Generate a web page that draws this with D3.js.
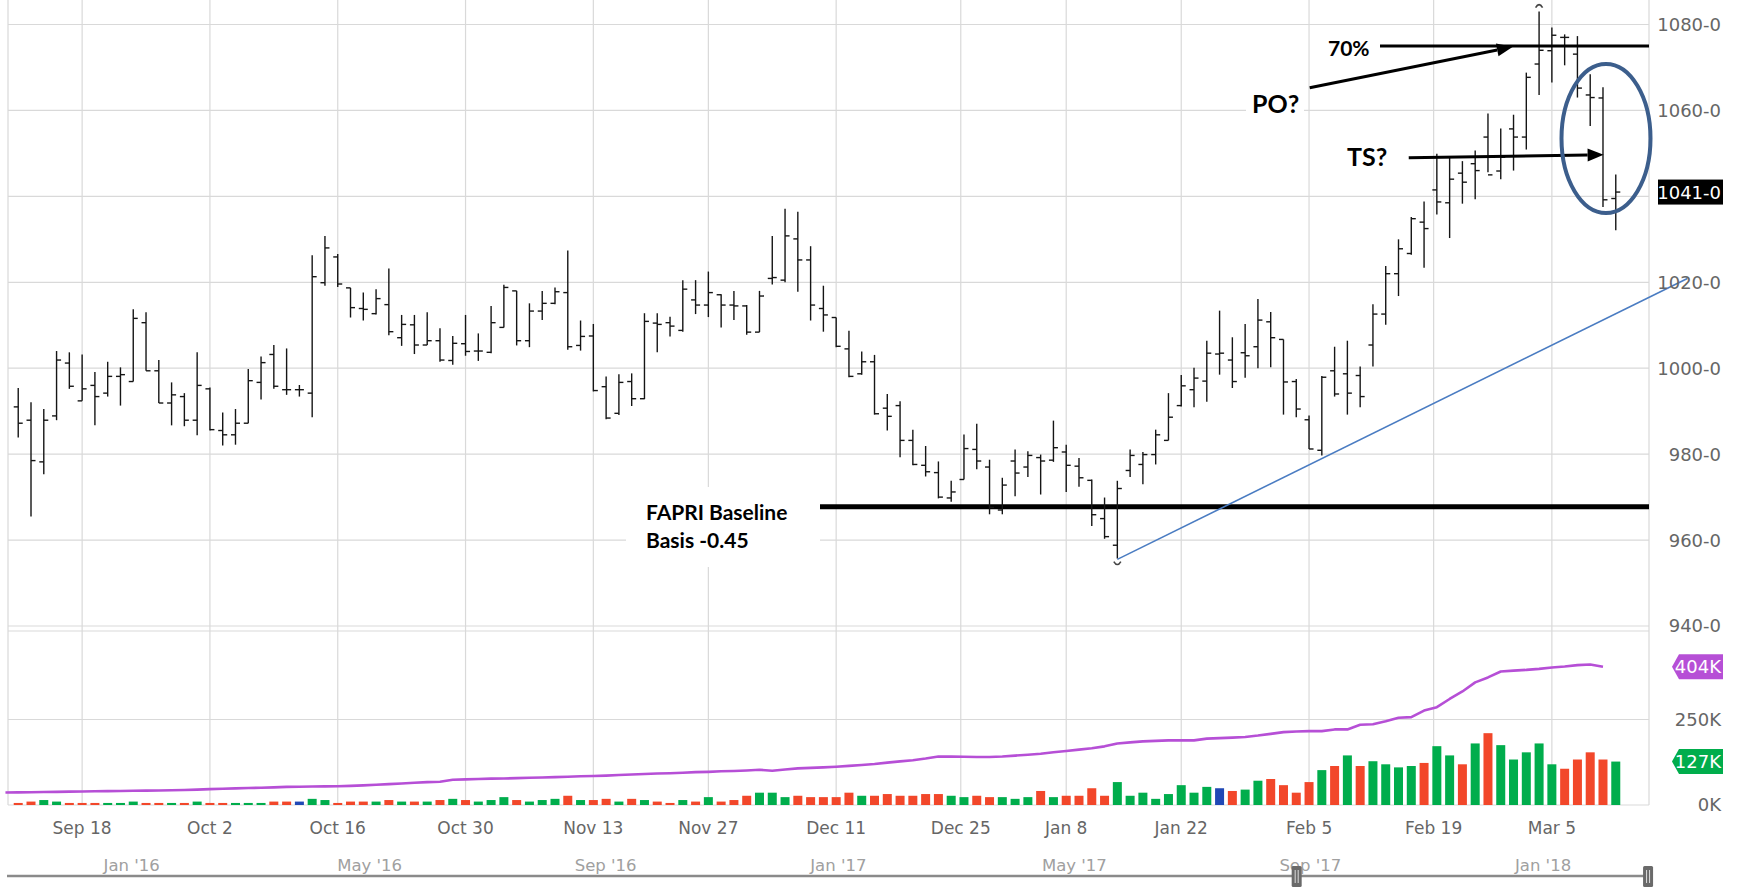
<!DOCTYPE html>
<html><head><meta charset="utf-8">
<script src="https://cdn.jsdelivr.net/npm/d3@7"></script>
<style>html,body{margin:0;padding:0;background:#fff;} svg{display:block;}</style>
</head><body>
<svg id="chart" width="1740" height="889"></svg>
<script>
// ---------------- DATA ----------------
const dates = [
"2017-09-11","2017-09-12","2017-09-13","2017-09-14","2017-09-15","2017-09-18","2017-09-19","2017-09-20","2017-09-21","2017-09-22",
"2017-09-25","2017-09-26","2017-09-27","2017-09-28","2017-09-29","2017-10-02","2017-10-03","2017-10-04","2017-10-05","2017-10-06",
"2017-10-09","2017-10-10","2017-10-11","2017-10-12","2017-10-13","2017-10-16","2017-10-17","2017-10-18","2017-10-19","2017-10-20",
"2017-10-23","2017-10-24","2017-10-25","2017-10-26","2017-10-27","2017-10-30","2017-10-31","2017-11-01","2017-11-02","2017-11-03",
"2017-11-06","2017-11-07","2017-11-08","2017-11-09","2017-11-10","2017-11-13","2017-11-14","2017-11-15","2017-11-16","2017-11-17",
"2017-11-20","2017-11-21","2017-11-22","2017-11-24","2017-11-27","2017-11-28","2017-11-29","2017-11-30","2017-12-01","2017-12-04",
"2017-12-05","2017-12-06","2017-12-07","2017-12-08","2017-12-11","2017-12-12","2017-12-13","2017-12-14","2017-12-15","2017-12-18",
"2017-12-19","2017-12-20","2017-12-21","2017-12-22","2017-12-26","2017-12-27","2017-12-28","2017-12-29","2018-01-02","2018-01-03",
"2018-01-04","2018-01-05","2018-01-08","2018-01-09","2018-01-10","2018-01-11","2018-01-12","2018-01-16","2018-01-17","2018-01-18",
"2018-01-19","2018-01-22","2018-01-23","2018-01-24","2018-01-25","2018-01-26","2018-01-29","2018-01-30","2018-01-31","2018-02-01",
"2018-02-02","2018-02-05","2018-02-06","2018-02-07","2018-02-08","2018-02-09","2018-02-12","2018-02-13","2018-02-14","2018-02-15",
"2018-02-16","2018-02-20","2018-02-21","2018-02-22","2018-02-23","2018-02-26","2018-02-27","2018-02-28","2018-03-01","2018-03-02",
"2018-03-05","2018-03-06","2018-03-07","2018-03-08","2018-03-09","2018-03-12"];

const open = [991.0,987.9,978.2,988.9,1001.2,992.4,996.0,994.2,998.1,996.9,
1010.6,999.4,991.9,993.4,987.9,995.2,985.5,984.5,987.2,996.7,
1003.2,995.0,995.0,994.2,1019.9,1025.9,1018.7,1013.9,1012.7,1014.8,
1007.1,1010.1,1005.4,1006.4,1001.8,1005.7,1004.0,1003.7,1009.5,1018.0,
1006.4,1013.3,1015.1,1017.6,1005.3,1007.5,995.7,989.5,996.9,992.9,
1010.5,1010.6,1008.8,1015.9,1014.7,1017.1,1014.7,1014.5,1008.4,1020.9,
1020.5,1030.1,1025.2,1013.9,1011.8,1004.5,998.7,1001.5,990.7,991.3,
983.2,977.4,975.7,969.8,974.1,981.1,977.0,967.0,978.4,977.0,
979.2,978.6,980.5,977.2,973.9,965.0,958.8,976.2,977.6,979.9,
983.2,991.3,995.0,997.0,1003.3,1001.9,1003.6,1005.0,1010.8,1006.7,
996.9,988.0,980.9,999.4,998.7,998.3,1005.4,1012.6,1022.0,1026.7,
1034.0,1041.5,1038.5,1045.4,1047.6,1053.8,1045.9,1055.7,1053.8,1070.8,
1073.9,1077.0,1073.1,1063.6,1062.9,1039.5];

const high = [995.4,992.1,990.5,1004.0,1003.7,1003.2,999.1,1001.5,1000.2,1013.7,
1013.0,1001.9,996.7,994.2,1003.7,995.5,989.7,990.5,999.8,1002.7,
1005.4,1004.6,996.1,1026.3,1030.8,1026.6,1018.7,1017.6,1018.4,1023.2,
1012.4,1012.4,1013.0,1009.3,1007.5,1012.4,1008.1,1014.5,1019.4,1018.0,
1015.1,1018.0,1018.8,1027.4,1011.1,1010.3,998.1,998.6,998.8,1012.8,
1012.8,1012.0,1020.5,1020.5,1022.5,1017.2,1018.0,1014.7,1018.0,1030.8,
1037.1,1036.4,1028.4,1019.2,1011.8,1008.7,1003.9,1003.1,994.0,992.3,
985.7,981.9,978.3,973.8,984.6,987.1,978.7,974.5,981.1,980.7,
979.9,987.8,982.2,979.1,974.1,969.9,973.8,981.1,980.5,985.7,
994.2,998.4,1000.1,1006.4,1013.4,1007.2,1010.3,1016.1,1013.1,1006.7,
997.5,989.0,998.2,1005.0,1006.4,1000.4,1014.9,1023.8,1030.0,1035.2,
1038.8,1049.9,1049.1,1048.2,1050.7,1059.3,1055.8,1059.0,1068.8,1083.0,
1079.3,1077.7,1077.3,1068.4,1065.4,1045.1];

const low = [983.9,965.5,975.3,987.9,995.2,992.4,986.7,993.4,991.3,996.9,
999.4,991.9,986.7,986.5,984.4,985.5,982.0,982.2,987.2,992.7,
995.2,993.8,993.4,988.6,1019.2,1018.9,1011.8,1011.1,1012.5,1007.7,
1005.2,1003.3,1005.4,1001.5,1000.8,1002.9,1001.7,1003.5,1009.5,1005.3,
1004.9,1011.2,1014.9,1004.3,1004.1,994.6,988.1,989.1,991.2,992.8,
1003.7,1007.4,1008.5,1012.6,1011.9,1009.5,1011.2,1007.8,1008.4,1019.5,
1020.0,1017.8,1011.1,1008.5,1004.9,997.9,998.5,989.2,985.5,979.3,
977.4,974.8,969.7,968.9,974.1,976.5,966.0,966.0,970.2,974.7,
970.6,978.2,971.2,972.4,963.3,960.3,955.7,974.7,973.0,977.6,
983.2,991.1,990.9,992.2,998.5,995.4,997.8,1000.0,1000.2,989.2,
988.6,981.2,979.7,993.4,989.2,990.9,1000.4,1010.1,1016.8,1026.4,
1023.4,1035.8,1030.3,1038.3,1039.3,1045.6,1044.0,1046.0,1050.9,1063.6,
1066.5,1070.5,1063.0,1056.4,1037.5,1032.1];

const close = [987.2,978.5,987.9,1001.9,995.8,995.2,993.4,998.1,998.5,1011.6,
999.4,991.9,993.8,987.9,996.0,985.7,984.5,987.2,997.1,1001.3,
995.8,995.0,995.0,1021.3,1028.0,1019.6,1014.1,1013.7,1016.2,1008.5,
1010.2,1005.4,1006.4,1001.9,1005.8,1003.9,1004.0,1010.6,1018.8,1006.4,
1013.3,1015.1,1017.8,1005.0,1007.4,994.8,988.4,996.7,992.9,1010.9,
1010.2,1009.8,1018.4,1014.7,1017.6,1014.7,1014.5,1008.4,1016.8,1021.1,
1030.8,1025.2,1014.7,1012.4,1005.1,998.1,1001.5,989.4,988.8,983.2,
977.6,975.9,970.0,971.2,981.3,978.4,967.6,972.8,975.6,979.7,
978.4,981.5,977.4,974.5,965.9,960.8,972.0,979.7,979.9,984.5,
988.6,995.9,997.7,1003.5,1003.5,996.9,1002.9,1011.2,1007.1,996.8,
990.5,981.2,997.9,994.0,994.2,993.4,1012.6,1022.0,1027.8,1034.8,
1032.5,1038.7,1044.0,1043.3,1046.0,1045.0,1049.1,1053.8,1067.7,1074.0,
1077.5,1077.0,1065.2,1063.0,1039.2,1041.0];

// volume, thousands of contracts
const volume = [6,10,14.5,10,6,6,6,6,6,10,
6,6,6,6,10,6,6,6,6,6,
10,10,10,18,14.5,6,10,10,10,14.5,
10,10,10,14.5,18,14.5,10,14.5,23,14.5,
10,14.5,18,27,14.5,14.5,18,10,18,14.5,
10,6,14.5,10,23,10,14.5,27,36,36,
23,27,23,23,23,36,27,27,32,27,
27,32,32,27,23,27,23,23,18,23,
41,23,27,27,49,27,67,27,36,18,
32,58,36,53,49,41,45,71,76,58,
36,67,102,114,145,114,128,119,110,114,
123,172,145,119,180,210,175,133,154,180,
119,106,133,154,133,127];

// open interest, thousands (first point is the session before the first bar)
const oiDates = ["2017-09-08"].concat(dates.slice(0, 125));
const openInterest = [36.5,37,37.5,38,38.5,39,39.5,40,40.5,41,41.5,
42,42.5,43,44,45,46.5,47.5,48.5,49.5,50.5,
51.5,53,53.5,54,54.5,55,56,57.5,59,61,
63,65,67,68,74,75,76,77,77.5,78.5,
79.5,80.5,81.5,82.5,84,85,86,87.5,89,90.5,
92,93,94.5,96,97,98.5,99.5,101,103,100,
104,107,108.5,110,112,114.5,117,120,124,127.5,
131,136,142,141.5,141,140.5,140.5,142,144.5,147,
150,154,158,162,166,171.5,180,183,186,187.5,
189,189,189,194,195.5,197,199,203,208,213,
215,216,216,221,221,234.5,236,245,255,257,
276,286,310,332,358.5,373,390.5,393,395,398,
402,405,409,411,404];

const priceTicks = [940,960,980,1000,1020,1040,1060,1080];
const volumeTicks = [0,250];
const dateTicks = ["2017-09-18","2017-10-02","2017-10-16","2017-10-30","2017-11-13","2017-11-27",
                   "2017-12-11","2017-12-25","2018-01-08","2018-01-22","2018-02-05","2018-02-19","2018-03-05"];
const navigatorRange = ["2015-11-13","2018-03-13"];

// annotation levels (price) and anchors (bar index, price)
const fapriLevel = 967.75;
const targetLevel = 1075;
const trendLine = [[86, 955.5],[130.6, 1020.9]];
const poArrow = [[101.05, 1065.3],[116.95, 1074.8]];
const tsArrow = [[108.8, 1049.0],[124.05, 1049.7]];

// ---------------- DRAW ----------------
const svg = d3.select("#chart");
svg.append("rect").attr("width",1740).attr("height",889).attr("fill","#fff");
const parse = d3.timeParse("%Y-%m-%d");
const dts = dates.map(parse);

const PL = 8, PR = 1649;
const x = d3.scaleLinear().domain([-0.8, 127.6]).range([PL, PR]);
const y = d3.scaleLinear().domain([940, 1080]).range([626, 24.5]);
const yv = d3.scaleLinear().domain([0, 250]).range([805, 719.5]);

function datePos(s){
  const t = parse(s);
  for (let i = 0; i < dts.length; i++){
    if (+dts[i] === +t) return i;
    if (dts[i] > t) { const a = dts[i-1], b = dts[i]; return i - 1 + (t - a) / (b - a); }
  }
  return dts.length - 1;
}
const idxOfDate = s => { const t = +parse(s); const k = dts.findIndex(d => +d === t); return k >= 0 ? k : -1; };

// grid
const grid = svg.append("g").attr("stroke","#d9d9d9").attr("stroke-width",1.2).attr("fill","none");
priceTicks.forEach(v => grid.append("line").attr("x1",PL).attr("x2",PR).attr("y1",y(v)).attr("y2",y(v)));
grid.append("line").attr("x1",PL).attr("x2",PR).attr("y1",631).attr("y2",631);
volumeTicks.forEach(v => grid.append("line").attr("x1",PL).attr("x2",PR).attr("y1",yv(v)).attr("y2",yv(v)));
dateTicks.forEach(d => { const xx = x(datePos(d)); grid.append("line").attr("x1",xx).attr("x2",xx).attr("y1",0).attr("y2",805); });
grid.append("line").attr("x1",PL).attr("x2",PL).attr("y1",0).attr("y2",805);
grid.append("line").attr("x1",PR).attr("x2",PR).attr("y1",0).attr("y2",805);

// white box behind FAPRI text
svg.append("rect").attr("x",626).attr("y",487).attr("width",194).attr("height",80).attr("fill","#fff");
// white box behind PO?
svg.append("rect").attr("x",1246).attr("y",90).attr("width",58).attr("height",30).attr("fill","#fff");

// FAPRI baseline
svg.append("line").attr("x1",820).attr("x2",PR).attr("y1",y(fapriLevel)).attr("y2",y(fapriLevel))
  .attr("stroke","#000").attr("stroke-width",5);

// OHLC bars
const ohlc = svg.append("g").attr("stroke","#151515").attr("stroke-width",1.4);
dates.forEach((d,i) => {
  const cx = x(i);
  ohlc.append("line").attr("x1",cx).attr("x2",cx).attr("y1",y(high[i])).attr("y2",y(low[i]));
  ohlc.append("line").attr("x1",cx-4.5).attr("x2",cx).attr("y1",y(open[i])).attr("y2",y(open[i]));
  ohlc.append("line").attr("x1",cx).attr("x2",cx+4.5).attr("y1",y(close[i])).attr("y2",y(close[i]));
});
// high / low markers
const hiI = d3.maxIndex(high), loI = d3.minIndex(low);
svg.append("path").attr("d",`M${x(hiI)-3.5},${y(high[hiI])-4} Q${x(hiI)},${y(high[hiI])-10} ${x(hiI)+3.5},${y(high[hiI])-4}`)
  .attr("fill","none").attr("stroke","#444").attr("stroke-width",1.6);
svg.append("path").attr("d",`M${x(loI)-3.5},${y(low[loI])+3} Q${x(loI)},${y(low[loI])+9} ${x(loI)+3.5},${y(low[loI])+3}`)
  .attr("fill","none").attr("stroke","#444").attr("stroke-width",1.6);

// volume bars
const colUp = "#00ad4c", colDn = "#f2472a", colEq = "#2048b5";
const vol = svg.append("g");
volume.forEach((v,i) => {
  const prev = i > 0 ? close[i-1] : open[i];
  const c = close[i] > prev ? colUp : (close[i] < prev ? colDn : colEq);
  vol.append("rect").attr("x",x(i)-4.5).attr("width",9).attr("y",yv(v)).attr("height",yv(0)-yv(v)).attr("fill",c);
});

// open interest line
const oiIdx = oiDates.map(s => { const k = idxOfDate(s); return k >= 0 ? k : -1; });
svg.append("path").datum(openInterest)
  .attr("d", d3.line().x((d,k) => x(oiIdx[k])).y(d => yv(d)))
  .attr("fill","none").attr("stroke","#b64fd6").attr("stroke-width",2.6).attr("stroke-linejoin","round");

// trend line
svg.append("line").attr("x1",x(trendLine[0][0])).attr("y1",y(trendLine[0][1]))
  .attr("x2",x(trendLine[1][0])).attr("y2",y(trendLine[1][1]))
  .attr("stroke","#4a7cc2").attr("stroke-width",1.6);

// annotations
const ann = svg.append("g");
ann.append("line").attr("x1",1380).attr("x2",PR).attr("y1",y(targetLevel)).attr("y2",y(targetLevel))
  .attr("stroke","#000").attr("stroke-width",3);
function arrow(a, b){
  const x1 = x(a[0]), y1 = y(a[1]), x2 = x(b[0]), y2 = y(b[1]);
  const ang = Math.atan2(y2 - y1, x2 - x1), L = 16, Wd = 6.5;
  const bx = x2 - L*Math.cos(ang), by = y2 - L*Math.sin(ang);
  ann.append("line").attr("x1",x1).attr("y1",y1).attr("x2",bx).attr("y2",by).attr("stroke","#000").attr("stroke-width",3);
  ann.append("path").attr("d",`M${x2},${y2} L${bx - Wd*Math.sin(ang)},${by + Wd*Math.cos(ang)} L${bx + Wd*Math.sin(ang)},${by - Wd*Math.cos(ang)} Z`).attr("fill","#000");
}
arrow(poArrow[0], poArrow[1]);
arrow(tsArrow[0], tsArrow[1]);
ann.append("ellipse").attr("cx",1606).attr("cy",138.5).attr("rx",44.5).attr("ry",74.5)
  .attr("fill","none").attr("stroke","#3c5e8c").attr("stroke-width",4);

const annFont = "Lato, 'Open Sans', sans-serif";
function label(t, xx, yy, size){
  ann.append("text").attr("x",xx).attr("y",yy).text(t).attr("font-family",annFont)
    .attr("font-weight",700).attr("font-size",size).attr("fill","#000");
}
label("70%", 1328, 55.7, 21);
label("PO?", 1252, 113.3, 25);
label("TS?", 1347, 165.7, 25);
label("FAPRI Baseline", 646, 520, 21);
label("Basis -0.45", 646, 548.3, 21);

// axes labels
const axFont = "'DejaVu Sans', sans-serif";
const last = close[close.length-1];
const ax = svg.append("g").attr("font-family",axFont).attr("fill","#666");
priceTicks.forEach(v => {
  if (Math.abs(y(v) - y(last)) < 22) return; // hidden behind the last-price badge
  ax.append("text").attr("x",1721).attr("y",y(v)).attr("dy","0.36em")
    .attr("text-anchor","end").attr("font-size",18).text(v + "-0");
});
volumeTicks.forEach(v => ax.append("text").attr("x",1721).attr("y",yv(v)).attr("dy","0.36em")
  .attr("text-anchor","end").attr("font-size",18).text(v + "K"));
const fmt = d3.timeFormat("%b %-d");
dateTicks.forEach(d => ax.append("text").attr("x",x(datePos(d))).attr("y",833.5)
  .attr("text-anchor","middle").attr("font-size",17).text(fmt(parse(d))));

// last price badge
const lastTxt = Math.floor(last) + "-" + Math.round((last - Math.floor(last))*8);
svg.append("rect").attr("x",1658).attr("y",y(last)-12.5).attr("width",65).attr("height",25).attr("fill","#000");
svg.append("text").attr("x",1721).attr("y",y(last)).attr("dy","0.36em").attr("text-anchor","end")
  .attr("font-family",axFont).attr("font-size",18).attr("fill","#fff").text(lastTxt);

// volume / OI badges
function badge(v, color){
  const cy = yv(v);
  svg.append("path").attr("d",`M1672,${cy} L1679,${cy-12.5} L1723,${cy-12.5} L1723,${cy+12.5} L1679,${cy+12.5} Z`).attr("fill",color);
  svg.append("text").attr("x",1721).attr("y",cy).attr("dy","0.36em").attr("text-anchor","end")
    .attr("font-family",axFont).attr("font-size",18).attr("fill","#fff").text(Math.round(v) + "K");
}
badge(openInterest[openInterest.length-1], "#b64fd6");
const lv = volume.length-1;
badge(volume[lv], close[lv] > close[lv-1] ? colUp : colDn);

// navigator
const nav = d3.scaleTime().domain(navigatorRange.map(parse)).range([7, 1650]);
svg.append("line").attr("x1",7).attr("x2",1650).attr("y1",876).attr("y2",876).attr("stroke","#8a8a8a").attr("stroke-width",2.5);
nav.ticks(d3.timeMonth.every(4)).forEach(t => {
  svg.append("text").attr("x",nav(t)+2).attr("y",871).attr("font-family",axFont).attr("font-size",16.5)
    .attr("fill","#a0a0a0").text(d3.timeFormat("%b '%y")(t));
});
[dts[0], dts[dts.length-1]].forEach(t => {
  const hx = nav(t);
  svg.append("rect").attr("x",hx-5).attr("y",866).attr("width",10).attr("height",21).attr("rx",1.5).attr("fill","#6a6a6a");
  [-1.5, 1.5].forEach(o => svg.append("line").attr("x1",hx+o).attr("x2",hx+o).attr("y1",870).attr("y2",883).attr("stroke","#ddd").attr("stroke-width",1));
});
</script>
</body></html>
